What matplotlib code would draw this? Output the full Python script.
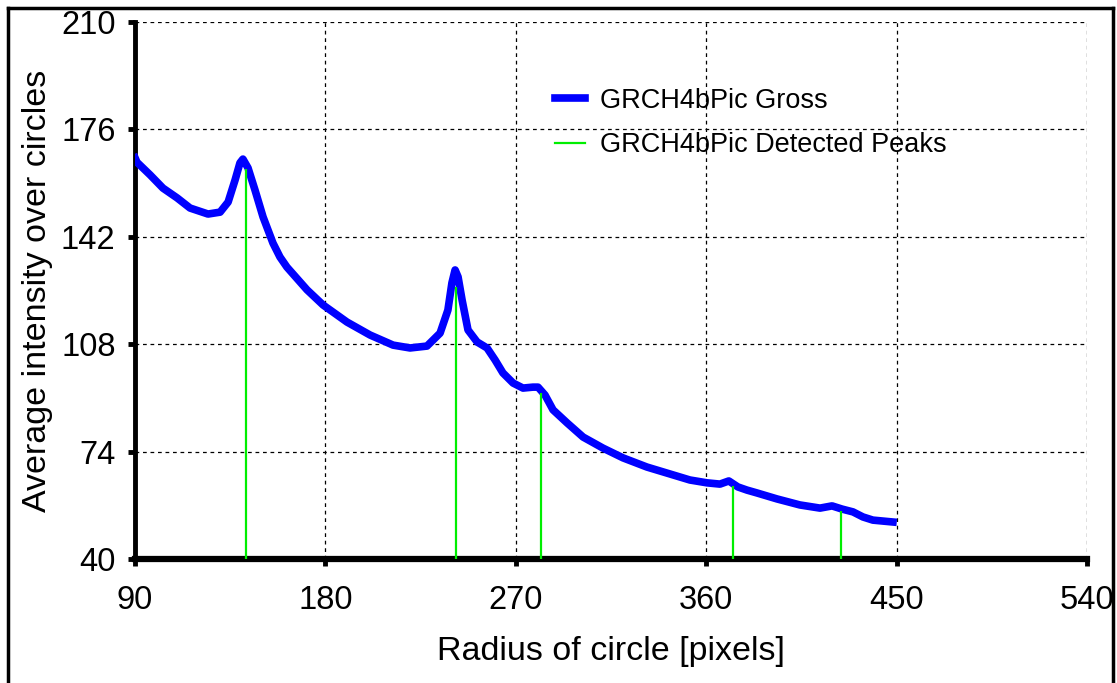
import numpy as np
import matplotlib.pyplot as plt
from matplotlib.lines import Line2D

# gross curve
radius = [90.0, 90.9, 97.1, 103.2, 109.9, 116.0, 124.5, 130.2, 134.0, 137.3, 139.6,
          141.0, 143.4, 146.7, 150.5, 155.2, 158.5, 161.8, 168.0, 171.3, 178.9,
          190.2, 201.1, 212.0, 220.0, 228.0, 234.2, 237.9, 239.8, 241.3, 242.7,
          244.6, 247.4, 251.7, 256.4, 260.2, 263.9, 268.7, 273.4, 278.1, 280.5,
          283.8, 287.6, 294.2, 301.8, 311.2, 320.7, 332.0, 342.9, 352.3, 360.4,
          366.5, 370.7, 375.0, 379.3, 384.0, 393.5, 404.3, 413.8, 419.5, 424.2,
          429.4, 434.1, 438.8, 448.3]
intensity = [167.0, 165.6, 161.6, 157.4, 154.3, 151.1, 149.2, 149.8, 153.0, 160.0, 165.4,
             166.6, 163.8, 156.8, 148.3, 140.0, 135.6, 132.4, 127.7, 125.2, 120.4,
             115.0, 110.9, 107.7, 106.8, 107.4, 111.5, 118.8, 127.4, 131.5, 129.3,
             122.0, 112.5, 108.7, 106.8, 103.0, 98.9, 95.7, 94.1, 94.4, 94.4,
             91.9, 87.2, 83.1, 78.6, 75.1, 72.0, 69.1, 66.9, 65.0, 64.1,
             63.7, 64.7, 62.8, 61.8, 60.9, 59.0, 57.1, 56.1, 56.8, 55.8,
             54.9, 53.3, 52.3, 51.7]

# detected peaks
peak_x = [142.5, 241.7, 281.9, 372.7, 423.7]
peak_y = [163.5, 126.0, 92.5, 63.0, 55.2]

xticks = [90, 180, 270, 360, 450, 540]
yticks = [40, 74, 108, 142, 176, 210]

plt.rcParams['font.family'] = ['Liberation Sans', 'DejaVu Sans']

fig = plt.figure(figsize=(11.17, 6.83), dpi=100)
ax = fig.add_axes([0.1209, 0.1816, 0.8522, 0.7862])

ax.plot(radius, intensity, color='#0000ff', lw=5.5, zorder=3)
ax.vlines(peak_x, 40, peak_y, color='#00ee00', lw=1.6, zorder=4)

ax.set_xlim(90, 540)
ax.set_ylim(40, 210)
ax.set_xticks(xticks)
ax.set_yticks(yticks)
ax.grid(True, color='black', ls=(0, (3, 3)), lw=0.9)
ax.set_axisbelow(True)

for s in ['top', 'right']:
    ax.spines[s].set_visible(False)
ax.spines['left'].set_linewidth(3.5)
ax.spines['bottom'].set_linewidth(4.5)
ax.tick_params(direction='out', length=5, width=3.5, labelsize=23.5)
ax.tick_params(axis='x', pad=14)
ax.tick_params(axis='y', pad=9)

ax.set_xlabel('Radius of circle [pixels]', fontsize=24.5, labelpad=14)
ax.set_ylabel('Average intensity over circles', fontsize=24.5, labelpad=6)

handles = [Line2D([], [], color='#0000ff', lw=5.5),
           Line2D([], [], color='#00ee00', lw=1.6)]
ax.legend(handles, ['GRCH4bPic Gross', 'GRCH4bPic Detected Peaks'],
          loc='upper left', bbox_to_anchor=(0.441, 0.878), frameon=False,
          fontsize=19.5, handlelength=1.1, handletextpad=0.55,
          labelspacing=0.7, borderpad=0, borderaxespad=0)

# frame around the picture
fig.add_artist(Line2D([0.007, 0.007], [0, 0.988], color='black', lw=2.5,
                      transform=fig.transFigure))
fig.add_artist(Line2D([0.007, 0.9965], [0.988, 0.988], color='black', lw=2.5,
                      transform=fig.transFigure))
fig.add_artist(Line2D([0.9965, 0.9965], [0, 0.988], color='black', lw=2.5,
                      transform=fig.transFigure))

fig.savefig('out.png', dpi=100, facecolor='white')
